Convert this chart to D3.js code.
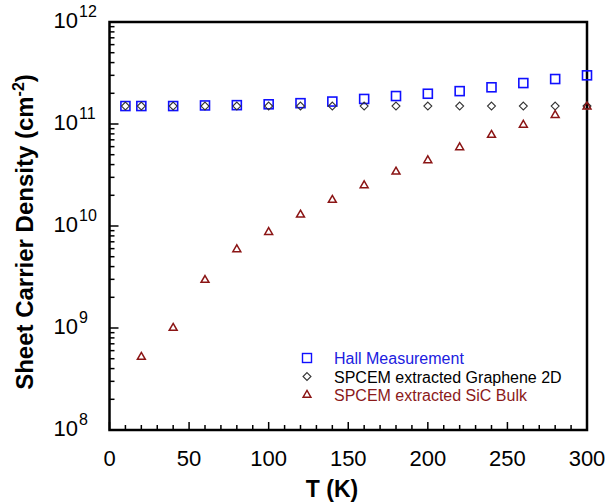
<!DOCTYPE html>
<html lang="en">
<head>
<meta charset="UTF-8">
<title>Sheet Carrier Density vs T</title>
<style>
    body { margin: 0; background: #fff; }
    svg { display: block; font-family: Arial, "Liberation Sans", sans-serif; }
</style>
</head>
<body>
<div id="chart"></div>
<script src="https://d3js.org/d3.v7.min.js"></script>
<script>
// data
const hallT = [10, 20, 40, 60, 80, 100, 120, 140, 160, 180, 200, 220, 240, 260, 280, 300];
const hallN = [1.5e11, 1.5e11, 1.5e11, 1.52e11, 1.53e11, 1.56e11, 1.6e11, 1.66e11, 1.76e11, 1.88e11, 1.98e11, 2.1e11, 2.29e11, 2.52e11, 2.76e11, 3.0e11];

const grapheneT = [10, 20, 40, 60, 80, 100, 120, 140, 160, 180, 200, 220, 240, 260, 280, 300];
const grapheneN = [1.5e11, 1.5e11, 1.5e11, 1.5e11, 1.5e11, 1.5e11, 1.5e11, 1.5e11, 1.5e11, 1.5e11, 1.5e11, 1.5e11, 1.5e11, 1.5e11, 1.5e11, 1.5e11];

const sicT = [20, 40, 60, 80, 100, 120, 140, 160, 180, 200, 220, 240, 260, 280, 300];
const sicN = [5.2e8, 1.0e9, 2.95e9, 5.9e9, 8.7e9, 1.29e10, 1.8e10, 2.5e10, 3.4e10, 4.4e10, 5.9e10, 7.8e10, 9.8e10, 1.22e11, 1.48e11];

const xTicks = [0, 50, 100, 150, 200, 250, 300];
const yExponents = [8, 9, 10, 11, 12];

const legendLabels = ["Hall Measurement", "SPCEM extracted Graphene 2D", "SPCEM extracted SiC Bulk"];

const width = 606, height = 504;
const margin = { left: 109.5, right: 19, top: 22, bottom: 74 };

const svg = d3.select("#chart").append("svg")
    .attr("width", width)
    .attr("height", height);

const x = d3.scaleLinear().domain([0, 300]).range([margin.left, width - margin.right]);
const y = d3.scaleLog().domain([1e8, 1e12]).range([height - margin.bottom, margin.top]);

// ticks pointing inward
const tickG = svg.append("g").attr("stroke", "#000").attr("stroke-width", 1.5);
d3.range(0, 301, 10).forEach(t => {
    const len = t % 50 === 0 ? 8 : 5;
    tickG.append("line")
        .attr("x1", x(t)).attr("x2", x(t))
        .attr("y1", y(1e8)).attr("y2", y(1e8) - len);
});
yExponents.forEach(e => {
    tickG.append("line")
        .attr("x1", x(0)).attr("x2", x(0) + 9)
        .attr("y1", y(Math.pow(10, e))).attr("y2", y(Math.pow(10, e)));
    if (e < 12) {
        for (let m = 2; m <= 9; m++) {
            tickG.append("line")
                .attr("x1", x(0)).attr("x2", x(0) + 5)
                .attr("y1", y(m * Math.pow(10, e))).attr("y2", y(m * Math.pow(10, e)));
        }
    }
});

// frame
svg.append("rect")
    .attr("x", x(0)).attr("y", y(1e12))
    .attr("width", x(300) - x(0)).attr("height", y(1e8) - y(1e12))
    .attr("fill", "none").attr("stroke", "#000").attr("stroke-width", 2.5);

// x tick labels
svg.append("g").selectAll("text")
    .data(xTicks).join("text")
    .attr("x", d => x(d)).attr("y", y(1e8) + 36)
    .attr("text-anchor", "middle")
    .attr("font-size", 22)
    .text(d => d);

// y tick labels 10^n
svg.append("g").selectAll("text")
    .data(yExponents).join("text")
    .attr("x", 78).attr("y", d => y(Math.pow(10, d)) + 6)
    .attr("text-anchor", "end")
    .attr("font-size", 22)
    .text("10");
svg.append("g").selectAll("text")
    .data(yExponents).join("text")
    .attr("x", 79).attr("y", d => y(Math.pow(10, d)) - 5)
    .attr("font-size", 16)
    .text(d => d);

// axis titles
svg.append("text")
    .attr("x", 332).attr("y", 497)
    .attr("text-anchor", "middle")
    .attr("font-size", 23).attr("font-weight", "bold")
    .text("T (K)");

const yt = svg.append("text")
    .attr("transform", "translate(33,232) rotate(-90)")
    .attr("text-anchor", "middle")
    .attr("font-size", 24).attr("font-weight", "bold");
yt.append("tspan").text("Sheet Carrier Density (cm");
yt.append("tspan").attr("font-size", 16).attr("dy", -9).text("-2");
yt.append("tspan").attr("dy", 9).text(")");

// markers
const sq = 9;
svg.append("g").selectAll("rect")
    .data(hallT.map((t, i) => [t, hallN[i]])).join("rect")
    .attr("x", d => x(d[0]) - sq / 2).attr("y", d => y(d[1]) - sq / 2)
    .attr("width", sq).attr("height", sq)
    .attr("fill", "none").attr("stroke", "#1010ff").attr("stroke-width", 1.6);

const diamond = d3.symbol().type(d3.symbolDiamond2).size(40);
svg.append("g").selectAll("path")
    .data(grapheneT.map((t, i) => [t, grapheneN[i]])).join("path")
    .attr("transform", d => `translate(${x(d[0])},${y(d[1])})`)
    .attr("d", diamond)
    .attr("fill", "none").attr("stroke", "#333").attr("stroke-width", 1.1);

const tri = d3.symbol().type(d3.symbolTriangle2).size(45);
svg.append("g").selectAll("path")
    .data(sicT.map((t, i) => [t, sicN[i]])).join("path")
    .attr("transform", d => `translate(${x(d[0])},${y(d[1])})`)
    .attr("d", tri)
    .attr("fill", "none").attr("stroke", "#8b1515").attr("stroke-width", 1.5);

// legend
const legendColors = ["#2020e0", "#000", "#8b1a1a"];
const lg = svg.append("g");
legendLabels.forEach((lab, i) => {
    const ly = 358 + i * 18.5;
    if (i === 0) {
        lg.append("rect").attr("x", 307 - 4.5).attr("y", ly - 4.5).attr("width", 9).attr("height", 9)
            .attr("fill", "none").attr("stroke", "#1010ff").attr("stroke-width", 1.4);
    } else if (i === 1) {
        lg.append("path").attr("transform", `translate(307,${ly})`).attr("d", diamond)
            .attr("fill", "none").attr("stroke", "#333").attr("stroke-width", 1.1);
    } else {
        lg.append("path").attr("transform", `translate(307,${ly})`).attr("d", tri)
            .attr("fill", "none").attr("stroke", "#8b1515").attr("stroke-width", 1.4);
    }
    lg.append("text")
        .attr("x", 334).attr("y", ly + 6)
        .attr("font-size", 16)
        .attr("fill", legendColors[i])
        .text(lab);
});
</script>
</body>
</html>
